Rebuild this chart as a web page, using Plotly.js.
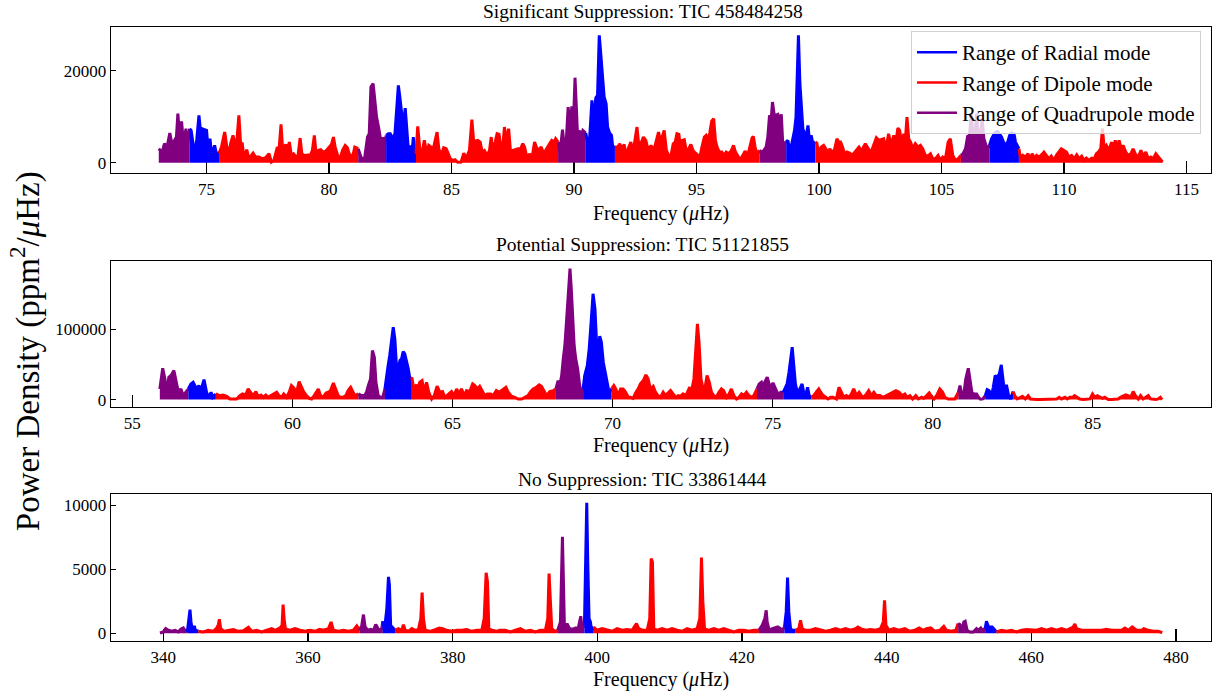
<!DOCTYPE html>
<html>
<head>
<meta charset="utf-8">
<script src="https://cdn.plot.ly/plotly-3.0.1.min.js"></script>
<style>html,body{margin:0;padding:0;background:#fff}#chart{width:1219px;height:694px}</style>
</head>
<body>
<div id="chart"></div>
<script>
// ---- Data: [frequency (uHz), power density (ppm^2/uHz)] ----
const topSpectrum = [
[73.05,3040],[73.19,2310],[73.28,4125],[73.39,3400],[73.50,6445],[73.60,3760],[73.69,4850],[73.77,5575],[73.83,10650],[73.90,5575],[73.98,8980],[74.06,4125],[74.16,7390],[74.21,3400],
[74.31,7390],[74.37,7025],[74.46,3760],[74.52,1950],[74.60,5000],[74.69,10290],[74.75,7025],[74.82,7390],[74.92,7170],[75.00,7025],[75.06,3040],[75.14,5210],[75.21,1590],[75.33,3760],[75.40,1950],
[75.51,2095],[75.61,3400],[75.74,6660],[75.82,3760],[75.93,1590],[75.98,4125],[76.08,5940],[76.15,4270],[76.23,4270],[76.32,10290],[76.39,4125],[76.46,4125],[76.53,860],[76.64,2820],[76.73,860],[76.90,2095],[77.00,1225],[77.14,1225],[77.28,860],[77.41,1080],[77.55,1950],[77.65,140],[77.75,500],[77.89,3400],[77.96,2820],[78.04,8330],[78.11,2530],[78.23,3980],[78.30,2820],[78.38,4490],[78.46,1590],[78.55,1950],[78.64,1370],[78.72,860],[78.82,5360],[78.89,1950],[78.98,1590],[79.12,1730],[79.25,1730],[79.32,2675],[79.40,5940],[79.47,1950],[79.57,2675],[79.66,2820],[79.77,2310],[79.87,2530],[80.00,3400],[80.10,3980],[80.18,5575],[80.25,3400],[80.35,1590],[80.45,860],[80.55,2675],[80.66,3760],[80.75,3255],[80.82,1950],[80.96,1225],[81.05,3400],
[81.19,3040],[81.30,1225],[81.44,500],[81.57,5575],[81.64,6300],[81.71,16450],[81.80,17175],[81.87,12825],[81.94,9925],[82.02,7750],[82.09,5575],[82.14,1950],[82.21,5575],[82.28,4125],
[82.33,5940],[82.42,6300],[82.50,6300],[82.59,5210],[82.69,6300],[82.76,10650],[82.83,16810],[82.89,14275],[82.96,10650],[83.03,7750],[83.11,11880],[83.18,5575],[83.25,1950],[83.30,3760],[83.37,1225],[83.44,5575],[83.48,3400],
[83.55,1950],[83.62,7895],[83.71,2675],[83.79,1950],[83.89,4850],[83.99,1950],[84.07,3760],[84.16,3400],[84.24,2675],[84.33,4490],[84.41,6660],[84.48,3040],[84.57,1590],[84.68,3255],[84.78,3040],[84.84,2310],[84.95,860],[85.05,500],[85.14,645],[85.25,100],[85.39,140],[85.50,2095],[85.59,860],[85.73,2675],[85.83,9345],[85.91,4125],[85.98,4705],[86.07,4850],[86.17,4490],[86.25,2310],[86.34,2675],[86.45,1590],[86.55,2675],[86.62,5575],[86.68,2675],[86.78,4490],[86.86,6300],[86.94,6155],[87.03,2675],[87.09,3400],[87.16,7750],[87.24,4490],[87.33,7390],[87.41,2310],[87.50,2675],[87.60,2820],[87.71,3040],[87.82,3040],[87.91,4125],[87.98,3400],[88.09,860],[88.18,1950],[88.28,860],[88.39,4490],[88.46,3400],[88.55,2675],[88.66,3400],[88.76,1950],[88.87,3040],[89.00,4125],[89.09,4850],[89.19,4490],[89.25,5210],
[89.35,4490],[89.43,2310],[89.53,7170],[89.59,4125],[89.68,4490],[89.76,12100],[89.84,7025],[89.91,12245],[89.98,9200],[90.04,18480],[90.10,11375],[90.14,6300],[90.21,7025],[90.28,5575],[90.36,7025],
[90.48,6445],[90.55,4490],[90.64,5575],[90.73,13550],[90.79,9200],[90.89,14130],[90.96,14640],[91.03,27690],[91.07,25150],[91.12,22250],[91.18,17900],[91.23,14275],[91.31,12825],[91.37,7750],[91.45,6445],[91.53,5940],[91.58,3400],
[91.67,3400],[91.78,3400],[91.87,4125],[91.95,3040],[92.05,3980],[92.13,860],[92.21,3040],[92.32,4490],[92.40,1950],[92.50,5575],[92.57,7750],[92.63,4490],[92.73,4125],[92.83,5575],[92.93,4850],[93.03,2675],[93.14,3760],[93.22,3040],[93.30,3545],[93.38,5210],[93.45,6660],[93.52,4850],[93.62,5940],[93.68,7025],[93.77,2675],[93.86,1590],[93.96,1590],[94.05,4125],[94.13,4490],[94.20,6300],[94.28,6155],[94.34,3400],[94.42,4850],[94.50,4995],[94.60,1950],[94.68,3040],[94.77,3980],[94.87,2530],[94.95,2095],[95.05,1590],[95.14,1225],[95.22,3400],[95.32,5575],[95.39,5940],[95.46,4850],[95.54,6445],[95.62,9055],[95.70,9560],[95.77,4850],[95.84,3400],[95.93,2310],[96.03,2310],[96.11,1590],[96.21,2310],[96.30,1950],[96.41,2530],[96.51,3760],[96.59,2310],[96.68,1590],[96.78,645],[96.89,1590],[96.98,2530],[97.09,1590],[97.20,4125],[97.27,5430],[97.32,5720],[97.39,3400],[97.47,1805],
[97.57,2675],[97.67,2310],[97.75,2675],[97.84,3400],[97.91,5575],[97.98,10290],[98.05,9560],[98.10,13190],[98.17,10505],[98.24,10290],[98.32,10505],[98.39,8475],[98.46,10505],[98.52,4125],
[98.66,4490],[98.73,4850],[98.80,2675],[98.86,3400],[98.93,5210],[99.00,7025],[99.06,9925],[99.11,17540],[99.16,27690],[99.22,17175],[99.27,12100],[99.34,7390],[99.41,6300],[99.48,5940],[99.55,8110],[99.61,4850],[99.68,5940],[99.75,4125],
[99.85,4490],[99.91,4270],[99.98,2310],[100.09,3400],[100.19,3760],[100.27,3040],[100.36,2310],[100.45,3040],[100.53,1950],[100.64,3040],[100.73,5210],[100.80,4490],[100.88,4490],[100.96,3400],[101.05,1805],[101.14,2310],[101.25,2095],[101.35,1590],[101.46,2310],[101.55,2675],[101.63,3400],[101.73,2530],[101.82,3545],[101.89,4125],[101.97,3400],[102.07,2530],[102.16,2820],[102.25,4125],[102.34,5430],[102.44,4850],[102.64,5210],[102.73,3035],[102.84,6300],[102.94,3760],[103.05,5935],[103.14,4485],[103.22,7530],[103.29,7020],[103.39,3760],[103.46,6300],[103.52,4485],[103.59,9920],[103.66,5210],[103.74,4485],[103.82,3035],[103.93,4120],[104.04,3400],[104.14,3760],[104.23,3035],[104.34,1585],[104.45,1440],[104.55,1950],[104.64,860],[104.75,860],[104.86,1585],[104.96,500],[105.05,1225],[105.16,860],[105.27,4485],[105.36,5210],[105.46,1585],[105.57,500],[105.68,860],
[105.79,1585],[105.88,1950],[105.98,3035],[106.07,5935],[106.14,5575],[106.21,10650],[106.28,5935],[106.36,5575],[106.43,10650],[106.50,5935],[106.58,5210],[106.66,9560],[106.73,5210],[106.80,4120],[106.86,3035],
[106.96,3760],[107.04,5210],[107.12,5935],[107.20,6515],[107.29,6805],[107.37,6300],[107.45,5575],[107.53,4485],[107.61,3760],[107.70,4485],[107.78,5935],[107.86,6515],[107.96,6300],[108.02,4485],
[108.16,3035],[108.23,860],[108.32,1585],[108.43,1225],[108.53,1950],[108.61,860],[108.70,1950],[108.80,860],[108.88,1585],[108.98,1225],[109.09,1730],[109.18,2310],[109.28,1585],[109.39,860],[109.48,1440],[109.59,500],[109.70,1730],[109.80,2310],[109.89,3035],[110.00,2670],[110.10,2310],[110.20,1225],[110.31,1585],[110.41,860],[110.52,1730],[110.61,860],[110.72,1440],[110.82,500],[110.91,1005],[111.02,500],[111.13,1005],[111.23,860],[111.32,1950],[111.40,2310],[111.50,3035],[111.57,7385],[111.64,3035],[111.73,3760],[111.84,2670],[111.94,4485],[112.02,3035],[112.09,4850],[112.17,3035],[112.25,4850],[112.33,3035],[112.41,3760],[112.52,2310],[112.62,1585],[112.73,1950],[112.82,3035],[112.93,1730],[113.03,1225],[113.14,2670],[113.23,1440],[113.34,2310],[113.44,860],[113.54,1225],[113.64,860],[113.75,1950],[113.86,1225],[113.95,500],[114.02,150]
];

const midSpectrum = [
[55.86,15190],[55.95,44710],[56.02,29470],[56.07,5660],[56.14,31850],[56.21,34230],[56.30,41380],[56.36,29470],[56.44,10420],[56.52,15190],[56.59,5660],
[56.75,15190],[56.83,22330],[56.90,24710],[57.01,15190],[57.08,19950],[57.14,12810],[57.24,28520],[57.32,10420],[57.39,3280],[57.46,10420],[57.51,3280],
[57.61,8040],[57.72,5660],[57.84,6610],[57.95,4710],[58.05,900],[58.15,900],[58.26,900],[58.36,5660],[58.44,8040],[58.54,6610],[58.62,15190],[58.69,10420],[58.78,5660],[58.86,11380],[58.93,4710],[59.02,6610],[59.09,3280],[59.17,6610],[59.25,3280],[59.33,5660],[59.42,8040],[59.51,10420],[59.58,5660],[59.66,3280],[59.73,8040],[59.82,3280],[59.90,10420],[59.97,19950],[60.05,16140],[60.13,10420],[60.21,25660],[60.29,17570],[60.36,10420],[60.44,5660],[60.53,1850],[60.60,900],[60.68,5660],[60.81,15190],[60.88,5660],[60.96,3280],[61.05,9470],[61.12,10420],[61.19,12810],[61.28,23760],[61.35,15190],[61.43,5660],[61.50,3280],[61.59,3280],[61.67,5660],[61.74,12810],[61.82,17570],[61.88,12810],[61.95,5660],
[62.06,8040],[62.16,5660],[62.26,5660],[62.32,11380],[62.37,19950],[62.44,29470],[62.50,69950],[62.56,60430],[62.61,24710],[62.68,5660],[62.75,3280],[62.82,3280],
[62.89,15190],[62.94,34230],[62.99,48520],[63.04,62810],[63.10,81850],[63.15,103280],[63.20,86620],[63.25,48520],[63.30,43760],[63.36,55660],[63.41,58040],[63.46,68520],[63.51,65190],[63.56,55660],[63.62,43760],[63.67,29470],
[63.73,31850],[63.79,15190],[63.86,19950],[63.93,19000],[63.98,24710],[64.05,27090],[64.12,10420],[64.19,24710],[64.26,10420],[64.35,900],[64.43,5660],[64.52,19000],[64.61,10420],[64.69,11380],[64.76,3280],[64.87,8040],[64.97,11380],[65.05,5660],[65.13,15190],[65.20,8040],[65.28,15190],[65.37,5660],[65.44,12810],[65.54,11380],[65.63,22330],[65.70,19950],[65.77,15190],[65.85,19000],[65.94,10420],[66.01,5660],[66.09,8040],[66.19,8040],[66.27,5660],[66.37,12810],[66.46,10420],[66.58,15190],[66.67,17570],[66.74,10420],[66.84,4710],[66.95,3280],[67.05,900],[67.16,900],[67.26,3280],[67.36,5660],[67.44,11380],[67.52,15190],[67.62,17570],[67.71,20900],[67.78,19000],[67.83,15190],[67.94,5660],[68.04,11380],[68.15,12810],
[68.23,15190],[68.30,27090],[68.35,19950],[68.41,34230],[68.46,58040],[68.51,77090],[68.56,110430],[68.61,153280],[68.67,186620],[68.71,158050],[68.75,115190],[68.80,77090],[68.85,58040],[68.91,43760],[68.96,24710],[69.01,10420],
[69.08,15190],[69.13,34230],[69.21,48520],[69.27,72330],[69.33,110430],[69.39,150900],[69.45,129470],[69.50,81850],[69.55,72330],[69.60,90430],[69.65,81850],[69.71,53280],[69.77,39000],[69.83,24710],[69.89,10420],
[69.97,15190],[70.04,19950],[70.10,15190],[70.17,5660],[70.25,15190],[70.33,15190],[70.41,10420],[70.49,3280],[70.56,3280],[70.64,1850],[70.73,10420],[70.80,15190],[70.87,22330],[70.96,27090],[71.04,35190],[71.11,29470],[71.18,15190],[71.27,19000],[71.34,10420],[71.42,5660],[71.50,3280],[71.58,10420],[71.65,5660],[71.74,9470],[71.81,12810],[71.89,8040],[71.98,3280],[72.05,5660],[72.12,4710],[72.20,8040],[72.29,5660],[72.36,12810],[72.41,17570],[72.46,10420],[72.54,29470],[72.60,72330],[72.65,108050],[72.70,81850],[72.76,29470],[72.83,15190],[72.90,19950],[72.95,34230],[73.02,24710],[73.09,10420],[73.16,5660],[73.24,3280],[73.32,10420],[73.40,15190],[73.47,12810],[73.56,3280],[73.64,8040],[73.71,15190],[73.79,5660],[73.87,900],[73.95,3280],[74.03,8040],[74.10,5660],[74.18,10420],[74.26,5660],[74.34,3280],[74.41,5660],
[74.51,15190],[74.58,22330],[74.65,24710],[74.70,17570],[74.75,24710],[74.83,31850],[74.89,22330],[74.94,17570],[75.01,23760],[75.08,15190],[75.14,10420],[75.20,5660],[75.25,10420],
[75.33,10420],[75.38,15190],[75.45,22330],[75.51,39000],[75.55,53280],[75.61,74710],[75.66,48520],[75.71,22330],[75.77,10420],[75.85,15190],[75.92,22330],[75.97,10420],[76.03,5660],[76.09,17570],[76.14,5660],
[76.21,3280],[76.28,5660],[76.37,11380],[76.44,15190],[76.50,10420],[76.58,5660],[76.66,3280],[76.73,900],[76.81,3280],[76.89,3280],[76.99,900],[77.07,17570],[77.15,10420],[77.22,3280],[77.30,5660],[77.39,3280],[77.46,8040],[77.53,15190],[77.62,5660],[77.70,10420],[77.77,5660],[77.84,3280],[77.93,8040],[78.00,12810],[78.08,5660],[78.16,10420],[78.24,5660],[78.35,5660],[78.45,3280],[78.56,5660],[78.66,8040],[78.75,10420],[78.85,12810],[78.95,10420],[79.04,5660],[79.13,8040],[79.20,3280],[79.29,5660],[79.37,900],[79.47,5660],[79.55,900],[79.65,3280],[79.72,1850],[79.81,5660],[79.89,9470],[79.96,4710],[80.04,900],[80.12,5660],[80.22,15190],[80.31,10420],[80.38,3280],[80.48,900],[80.59,900],[80.69,900],
[80.80,10420],[80.85,19950],[80.91,5660],[80.97,8040],[81.03,29470],[81.11,44710],[81.16,29470],[81.22,10420],[81.28,8040],[81.37,8040],[81.43,3280],[81.49,500],[81.56,900],
[81.64,5660],[81.70,14230],[81.76,12810],[81.84,5660],[81.89,17570],[81.95,34230],[82.01,31850],[82.08,36620],[82.14,49470],[82.18,29470],[82.24,10420],[82.30,20900],[82.37,5660],[82.43,900],
[82.51,11380],[82.56,5660],[82.64,900],[82.72,3280],[82.80,4710],[82.89,900],[82.98,5660],[83.05,900],[83.14,0],[83.24,0],[83.35,0],[83.45,0],[83.55,0],[83.66,0],[83.76,0],[83.87,900],[83.95,3280],[84.02,900],[84.13,3280],[84.20,900],[84.28,3280],[84.37,3280],[84.43,5660],[84.51,3280],[84.59,900],[84.70,0],[84.80,0],[84.91,900],[84.99,8040],[85.06,3280],[85.14,5660],[85.22,3280],[85.30,1850],[85.37,3280],[85.48,0],[85.58,0],[85.69,0],[85.79,900],[85.86,3280],[85.95,5660],[86.03,6610],[86.10,5660],[86.18,3280],[86.26,11380],[86.33,5660],[86.42,900],[86.49,5660],[86.57,900],[86.64,3280],[86.73,5660],[86.80,900],[86.88,0],[86.97,0],[87.04,900],[87.11,3280],[87.16,0]
];

const botSpectrum = [
[339.54,20],[340.01,104],[340.33,365],[340.70,235],[341.16,156],[341.62,235],[342.08,104],[342.40,313],[342.77,417],[343.00,235],
[343.32,104],[343.56,1410],[343.69,1854],[343.83,888],[344.02,235],[344.29,574],[344.43,235],
[344.85,156],[345.54,104],[346.23,235],[346.92,156],[347.38,417],[347.61,678],[347.75,1096],[347.94,365],[348.40,156],[349.00,235],[349.69,287],[350.38,156],[351.07,208],[351.76,470],[352.22,156],[352.91,235],[353.61,104],[354.30,235],[354.99,365],[355.45,235],[356.14,417],[356.42,626],[356.56,2246],[356.70,1149],[356.88,365],[357.52,235],[358.22,365],[358.91,235],[359.60,156],[360.29,235],[360.98,156],[361.58,313],[362.14,235],[362.83,365],[363.20,888],[363.52,235],[364.21,156],[364.90,235],[365.59,156],[366.28,235],[366.75,574],
[367.11,235],[367.44,626],[367.67,1462],[367.90,496],[368.27,235],[368.68,313],[369.05,235],[369.37,678],[369.51,574],[369.79,235],[370.20,365],
[370.34,940],[370.57,235],[370.90,1932],[371.13,4414],[371.26,3761],[371.45,235],[371.63,496],
[372.05,235],[372.51,365],[372.97,235],[373.20,678],[373.43,235],[373.89,156],[374.35,365],[374.81,235],[375.27,287],[375.60,1149],[375.78,3186],[375.97,1149],[376.20,235],[376.89,156],[377.58,287],[378.18,417],[378.64,365],[379.19,235],[379.89,156],[380.58,235],[381.27,235],[381.96,287],[382.65,156],[383.34,235],[384.03,235],[384.36,1149],[384.63,4727],[384.82,4022],[385.00,365],[385.42,235],[386.11,156],[386.48,235],[387.29,235],[387.98,104],[388.68,235],[389.37,365],[390.06,156],[390.75,235],[391.44,104],[392.13,235],[392.82,235],[393.15,1149],[393.33,4675],[393.52,2325],[393.70,365],[393.98,235],[394.25,156],
[394.53,235],[394.90,888],[395.18,7548],[395.31,3500],[395.45,626],[395.64,496],[395.82,757],[396.10,417],[396.42,313],[396.74,365],[397.02,417],[397.30,235],[397.57,888],[397.71,1330],[397.90,365],
[398.22,626],[398.40,5589],[398.54,10212],[398.68,5589],[398.86,1149],[399.05,888],[399.19,235],
[399.51,496],[399.97,235],[400.66,365],[401.35,235],[402.05,156],[402.74,365],[403.43,235],[404.12,287],[404.81,235],[405.41,757],[405.73,365],[406.33,235],[406.89,235],[407.25,1149],[407.44,5850],[407.62,5589],[407.81,365],[408.27,235],[408.96,365],[409.65,235],[410.34,365],[411.04,235],[411.73,156],[412.42,365],[413.11,235],[413.80,365],[414.17,1149],[414.40,5929],[414.59,2455],[414.82,365],[415.42,235],[416.11,365],[416.80,235],[417.49,365],[418.18,235],[418.87,104],[419.56,235],[420.26,235],[420.95,156],[421.64,235],
[422.33,235],[422.79,626],[423.16,1149],[423.35,1802],[423.48,888],[423.76,235],[424.18,365],[424.64,417],[424.96,496],[425.33,365],[425.56,235],
[425.88,496],[426.11,1671],[426.30,4361],[426.48,1671],[426.71,365],[426.94,235],
[427.40,235],[427.86,365],[428.09,1018],[428.32,365],[428.79,235],[429.48,235],[430.17,365],[430.86,235],[431.55,156],[432.24,235],[432.94,365],[433.63,235],[434.32,365],[435.01,235],[435.70,365],[436.02,496],[436.39,365],[437.08,235],[437.78,287],[438.47,235],[439.16,365],[439.53,888],[439.71,2585],[439.90,626],[440.31,235],[441.00,365],[441.70,235],[442.51,365],[443.20,156],[443.89,235],[444.49,417],[445.04,235],[445.51,365],[446.10,417],[446.66,156],[447.35,235],[447.90,548],[448.27,235],[448.96,156],[449.56,235],
[449.88,757],[450.12,678],[450.35,235],[450.67,888],[450.85,940],[451.13,235],[451.50,104],[451.96,104],[452.42,365],[452.65,235],[453.02,417],[453.25,235],
[453.62,365],[453.80,940],[454.08,496],[454.36,496],[454.59,496],
[455.19,104],[455.88,235],[456.57,156],[457.26,235],[457.95,104],[458.64,235],[459.34,287],[460.03,235],[460.72,235],[461.41,365],[462.10,235],[462.79,365],[463.49,235],[464.18,365],[464.87,235],[465.56,417],[465.79,496],[466.02,730],[466.25,365],[466.94,235],[467.64,235],[468.33,287],[469.02,235],[469.71,235],[470.40,313],[471.09,235],[471.78,235],[472.48,235],[472.94,417],[473.40,235],[473.95,496],[474.55,235],[475.24,235],[475.57,365],[476.16,235],[476.86,156],[477.55,156],[478.10,50]
];

// Mode ranges (frequency edges) for each panel, and the mode of each range
const topEdges = [73.0, 74.25, 75.45, 81.14, 82.29, 83.51, 89.28, 90.41, 91.61, 97.50, 98.59, 99.79, 105.73, 106.91, 108.09, 114.1];
const midEdges = [55.8, 56.68, 57.55, 62.00, 62.84, 63.69, 68.20, 69.03, 69.91, 74.46, 75.27, 76.16, 80.74, 81.60, 82.46, 87.2];
const botEdges = [339.4, 343.14, 344.52, 366.84, 370.25, 371.72, 394.35, 398.03, 399.28, 422.01, 425.70, 426.99, 449.75, 453.43, 454.73, 478.2];
const rangeModes = ['Quadrupole','Radial','Dipole','Quadrupole','Radial','Dipole','Quadrupole','Radial','Dipole','Quadrupole','Radial','Dipole','Quadrupole','Radial','Dipole'];

const legendModes = ['Radial','Dipole','Quadrupole'];
const modeColors = {Radial:'#0000ff', Dipole:'#ff0000', Quadrupole:'#800080'};
const panelTitles = ['Significant Suppression: TIC 458484258','Potential Suppression: TIC 51121855','No Suppression: TIC 33861444'];

// ---- Build traces ----
const FONT = 'Liberation Serif, Times New Roman, serif';
const traces = [];
function addPanel(spec, edges, xa, ya){
  const f = spec.map(p => p[0]), P = spec.map(p => p[1]);
  for (let i = 0; i < rangeModes.length; i++){
    const a = edges[i], b = edges[i+1];
    const xs = [], ys = [];
    for (let k = 0; k < f.length; k++){
      if (f[k] >= a && f[k] < b){ xs.push(f[k]); ys.push(P[k]); }
    }
    const nxt = f.findIndex(v => v >= b);
    if (nxt >= 0 && i < rangeModes.length - 1){ xs.push(f[nxt]); ys.push(P[nxt]); }
    const c = modeColors[rangeModes[i]];
    traces.push({type:'scatter', mode:'lines', x:xs, y:ys, xaxis:xa, yaxis:ya,
      line:{color:c, width:3, shape:'linear'}, fill:'tozeroy', fillcolor:c,
      showlegend:false, hoverinfo:'skip'});
  }
}
addPanel(topSpectrum, topEdges, 'x', 'y');
addPanel(midSpectrum, midEdges, 'x2', 'y2');
addPanel(botSpectrum, botEdges, 'x3', 'y3');
legendModes.forEach(m => traces.push({type:'scatter', mode:'lines', x:[null], y:[null], xaxis:'x', yaxis:'y',
  name:'Range of ' + m + ' mode', line:{color:modeColors[m], width:2.5}, showlegend:true}));

// ---- Layout ----
const axBase = {showline:true, linecolor:'#000', linewidth:1.3, mirror:true, ticks:'inside', tickcolor:'#000',
  tickwidth:1.3, showgrid:false, zeroline:false, layer:'below traces', tickfont:{family:FONT, size:17, color:'#000'}};
function xa(anchor, range, dtick){ return Object.assign({}, axBase, {domain:[0,1], anchor:anchor, range:range, dtick:dtick, tick0:0, ticklen:12}); }
function ya(dom, anchor, range, vals){ return Object.assign({}, axBase, {domain:dom, anchor:anchor, range:range, tickvals:vals, tickformat:'d', ticklen:5}); }

const ann = [];
const titleY = [1.026, 0.645, 0.2638];
const xlabY = [0.697, 0.3176, -0.0635];
for (let i = 0; i < 3; i++){
  ann.push({text:panelTitles[i], xref:'paper', yref:'paper', x:0.4836, y:titleY[i], xanchor:'center', yanchor:'middle', showarrow:false, font:{family:FONT, size:19.5, color:'#000'}});
  ann.push({text:'Frequency (<i>μ</i>Hz)', xref:'paper', yref:'paper', x:0.5, y:xlabY[i], xanchor:'center', yanchor:'middle', showarrow:false, font:{family:FONT, size:20, color:'#000'}});
}
ann.push({text:'Power Density (ppm<sup>2</sup>/<i>μ</i>Hz)', xref:'paper', yref:'paper', x:-0.0782, y:0.472, xanchor:'center', yanchor:'middle', textangle:-90, showarrow:false, font:{family:FONT, size:33, color:'#000'}});

const layout = {
  width:1219, height:694, margin:{l:111, r:8, t:27, b:53}, paper_bgcolor:'#fff', plot_bgcolor:'#fff',
  font:{family:FONT, size:17, color:'#000'},
  xaxis: xa('y', [71.1, 116.0], 5),
  yaxis: ya([0.7622, 1], 'x', [-2240, 29500], [0, 20000]),
  xaxis2: xa('y2', [54.335, 88.69], 5),
  yaxis2: ya([0.3811, 0.6189], 'x2', [-10570, 197570], [0, 100000]),
  xaxis3: xa('y3', [332.77, 484.84], 20),
  yaxis3: ya([0, 0.2394], 'x3', [-603, 10893], [0, 5000, 10000]),
  showlegend:true,
  legend:{x:0.9909, y:0.9935, xanchor:'right', yanchor:'top', bgcolor:'rgba(255,255,255,0.8)', bordercolor:'#d0d0d0', borderwidth:1,
    font:{family:FONT, size:21, color:'#000'}, itemwidth:40, tracegroupgap:0},
  annotations: ann
};

Plotly.newPlot('chart', traces, layout, {staticPlot:true, displayModeBar:false});
</script>
</body>
</html>
